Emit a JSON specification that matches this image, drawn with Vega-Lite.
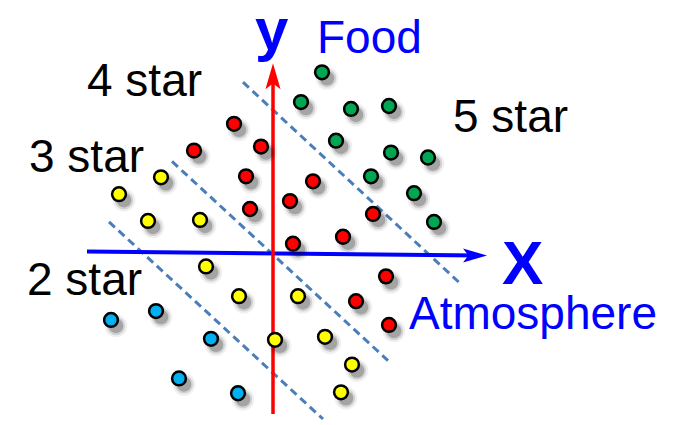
{
  "$schema": "https://vega.github.io/schema/vega-lite/v6.json",
  "width": 675,
  "height": 425,
  "padding": 0,
  "autosize": {"type": "fit", "contains": "padding"},
  "background": "white",
  "config": {"view": {"stroke": null}, "font": "Liberation Sans"},
  "datasets": {
    "restaurants": [
      {"atmosphere": 4.9, "food": 18.3, "rating": "5 star"},
      {"atmosphere": 2.8, "food": 15.3, "rating": "5 star"},
      {"atmosphere": 7.8, "food": 14.6, "rating": "5 star"},
      {"atmosphere": 11.6, "food": 14.9, "rating": "5 star"},
      {"atmosphere": 6.3, "food": 11.4, "rating": "5 star"},
      {"atmosphere": 11.8, "food": 10.2, "rating": "5 star"},
      {"atmosphere": 15.5, "food": 9.7, "rating": "5 star"},
      {"atmosphere": 9.8, "food": 7.8, "rating": "5 star"},
      {"atmosphere": 14.1, "food": 6.1, "rating": "5 star"},
      {"atmosphere": 16.1, "food": 3.2, "rating": "5 star"},
      {"atmosphere": -3.9, "food": 13.1, "rating": "4 star"},
      {"atmosphere": -7.9, "food": 10.4, "rating": "4 star"},
      {"atmosphere": -1.2, "food": 10.8, "rating": "4 star"},
      {"atmosphere": -2.7, "food": 7.8, "rating": "4 star"},
      {"atmosphere": 4.0, "food": 7.3, "rating": "4 star"},
      {"atmosphere": 1.7, "food": 5.3, "rating": "4 star"},
      {"atmosphere": -2.3, "food": 4.5, "rating": "4 star"},
      {"atmosphere": 10.0, "food": 4.0, "rating": "4 star"},
      {"atmosphere": 7.0, "food": 1.7, "rating": "4 star"},
      {"atmosphere": 2.0, "food": 1.0, "rating": "4 star"},
      {"atmosphere": 11.3, "food": -2.3, "rating": "4 star"},
      {"atmosphere": 8.3, "food": -4.8, "rating": "4 star"},
      {"atmosphere": 11.6, "food": -7.2, "rating": "4 star"},
      {"atmosphere": -11.2, "food": 7.7, "rating": "3 star"},
      {"atmosphere": -15.4, "food": 6.0, "rating": "3 star"},
      {"atmosphere": -12.5, "food": 3.3, "rating": "3 star"},
      {"atmosphere": -7.3, "food": 3.4, "rating": "3 star"},
      {"atmosphere": -6.7, "food": -1.3, "rating": "3 star"},
      {"atmosphere": -3.4, "food": -4.3, "rating": "3 star"},
      {"atmosphere": 2.5, "food": -4.3, "rating": "3 star"},
      {"atmosphere": 0.2, "food": -8.7, "rating": "3 star"},
      {"atmosphere": 5.2, "food": -8.4, "rating": "3 star"},
      {"atmosphere": 7.9, "food": -11.2, "rating": "3 star"},
      {"atmosphere": 6.8, "food": -14.0, "rating": "3 star"},
      {"atmosphere": -16.2, "food": -6.7, "rating": "2 star"},
      {"atmosphere": -11.7, "food": -5.8, "rating": "2 star"},
      {"atmosphere": -6.2, "food": -8.6, "rating": "2 star"},
      {"atmosphere": -9.4, "food": -12.6, "rating": "2 star"},
      {"atmosphere": -3.5, "food": -14.1, "rating": "2 star"}
    ],
    "boundaries": [
      {"line": "a", "atmosphere": -3.0, "food": 17.3},
      {"line": "a", "atmosphere": 18.6, "food": -2.9},
      {"line": "b", "atmosphere": -10.1, "food": 9.3},
      {"line": "b", "atmosphere": 11.5, "food": -10.8},
      {"line": "c", "atmosphere": -16.4, "food": 3.2},
      {"line": "c", "atmosphere": 5.0, "food": -16.7}
    ],
    "xAxis": [
      {"atmosphere": -18.6, "food": 0.2},
      {"atmosphere": 20.6, "food": -0.2}
    ],
    "xHead": [{"atmosphere": 20.2, "food": -0.2}],
    "yAxis": [
      {"atmosphere": 0, "food": -16.2},
      {"atmosphere": 0, "food": 18.0}
    ],
    "yHead": [{"atmosphere": 0, "food": 17.9}],
    "labels": [
      {"atmosphere": -18.6, "food": 15.9, "label": "4 star"},
      {"atmosphere": -24.4, "food": 8.2, "label": "3 star"},
      {"atmosphere": -24.6, "food": -4.2, "label": "2 star"},
      {"atmosphere": 18.0, "food": 12.3, "label": "5 star"}
    ],
    "titles": [
      {"atmosphere": 4.4, "food": 20.3, "label": "Food"},
      {"atmosphere": 13.6, "food": -7.6, "label": "Atmosphere"}
    ],
    "axisNames": [
      {"atmosphere": -1.8, "food": 20.6, "label": "y", "size": 60},
      {"atmosphere": 22.9, "food": -3.1, "label": "X", "size": 62}
    ]
  },
  "encoding": {
    "x": {"field": "atmosphere", "type": "quantitative", "axis": null,
          "scale": {"domain": [-27.3, 40.2], "nice": false, "zero": false}},
    "y": {"field": "food", "type": "quantitative", "axis": null,
          "scale": {"domain": [-16.9, 25.6], "nice": false, "zero": false}}
  },
  "layer": [
    {
      "data": {"name": "boundaries"},
      "mark": {"type": "line", "color": "#4a7ebb", "strokeWidth": 3, "strokeDash": [8, 5]},
      "encoding": {"detail": {"field": "line"}}
    },
    {
      "data": {"name": "xAxis"},
      "mark": {"type": "line", "color": "#0000ff", "strokeWidth": 4},
      "encoding": {}
    },
    {
      "data": {"name": "xHead"},
      "mark": {"type": "point", "shape": "M0,-1 L0.58,1 L0,0.55 L-0.58,1 Z", "filled": true,
               "color": "#0000ff", "opacity": 1, "size": 576, "angle": 90}
    },
    {
      "data": {"name": "yAxis"},
      "mark": {"type": "line", "color": "#ff0000", "strokeWidth": 3.5},
      "encoding": {}
    },
    {
      "data": {"name": "yHead"},
      "mark": {"type": "point", "shape": "M0,-1 L0.58,1 L0,0.55 L-0.58,1 Z", "filled": true,
               "color": "#ff0000", "opacity": 1, "size": 676}
    },
    {
      "data": {"name": "restaurants"},
      "mark": {"type": "point", "filled": true, "color": "#000000", "opacity": 0.06,
               "size": 520, "xOffset": 5, "yOffset": 6}
    },
    {
      "data": {"name": "restaurants"},
      "mark": {"type": "point", "filled": true, "color": "#000000", "opacity": 0.12,
               "size": 340, "xOffset": 5, "yOffset": 6}
    },
    {
      "data": {"name": "restaurants"},
      "mark": {"type": "point", "filled": true, "color": "#000000", "opacity": 0.22,
               "size": 210, "xOffset": 5, "yOffset": 6}
    },
    {
      "data": {"name": "restaurants"},
      "mark": {"type": "point", "filled": true, "opacity": 1, "size": 190,
               "stroke": "#000000", "strokeWidth": 2.5},
      "encoding": {
        "fill": {"field": "rating", "type": "nominal", "legend": null,
                 "scale": {"domain": ["2 star", "3 star", "4 star", "5 star"],
                           "range": ["#00b0f0", "#ffff00", "#ff0000", "#00a651"]}}
      }
    },
    {
      "data": {"name": "labels"},
      "mark": {"type": "text", "align": "left", "baseline": "alphabetic",
               "fontSize": 46, "color": "#000000"},
      "encoding": {"text": {"field": "label"}}
    },
    {
      "data": {"name": "titles"},
      "mark": {"type": "text", "align": "left", "baseline": "alphabetic",
               "fontSize": 46, "color": "#0000ff"},
      "encoding": {"text": {"field": "label"}}
    },
    {
      "data": {"name": "axisNames"},
      "mark": {"type": "text", "align": "left", "baseline": "alphabetic",
               "fontWeight": "bold", "color": "#0000ff"},
      "encoding": {
        "text": {"field": "label"},
        "size": {"field": "size", "type": "quantitative", "scale": null, "legend": null}
      }
    }
  ]
}
